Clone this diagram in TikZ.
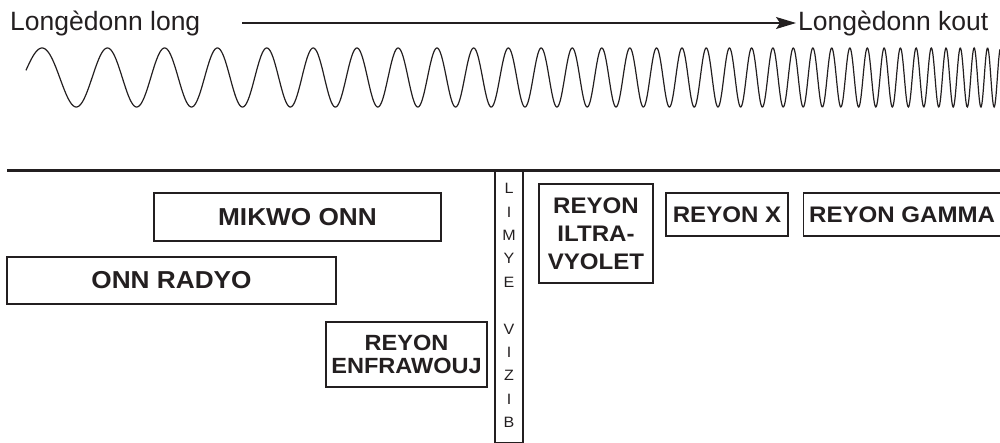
\documentclass[tikz,border=0pt]{standalone}
\usepackage{fontspec}
\setmainfont{Liberation Sans}
\newfontfamily\bandfont[FakeStretch=1.07]{Liberation Sans}
\usetikzlibrary{arrows.meta}
\definecolor{ink}{RGB}{35,31,32}
\begin{document}
\begin{tikzpicture}[x=1pt,y=-1pt,
  band/.style={draw=ink,line width=1.2pt,text=ink,inner sep=0pt,align=center,
    font=\bandfont\bfseries\fontsize{22.5}{28}\selectfont},
  vletter/.style={text=ink,inner sep=0pt,font=\bandfont\fontsize{15}{15}\selectfont}]
\clip (0,0) rectangle (1000,443);
% top labels and arrow
\node[anchor=base west,text=ink,inner sep=0pt,font=\fontsize{26.5}{30}\selectfont] (long) at (10,31) {Longèdonn long};
\node[anchor=base west,text=ink,inner sep=0pt,font=\fontsize{26.5}{30}\selectfont] (kout) at (798,31) {Longèdonn kout};
\coordinate (arrtail) at (242,23);
\draw[ink,line width=1.2pt,-{Stealth[length=20pt,width=12pt,inset=4pt]},shorten >=2pt] (arrtail) -- (arrtail -| kout.west);
% wave
\draw[ink,line width=1.2pt] plot[domain=26:1000,samples=2000]
  (\x,{77.5-29.5*cos(360*(0.011*\x+1.923*exp(0.0026*\x)+0.35*exp(-\x/60)-2.781))});
% spectrum
\draw[ink,line width=3pt] (7,171)--(1000,171);
\node[band,minimum width=287pt,minimum height=48pt,font=\bandfont\bfseries\fontsize{24.5}{28}\selectfont] (mikwo) at (297.5,217) {MIKWO ONN};
\node[band,minimum width=329pt,minimum height=47pt,font=\bandfont\bfseries\fontsize{24.5}{28}\selectfont] (radyo) at (171.5,280.5) {ONN RADYO};
\node[band,minimum width=161pt,minimum height=65pt,font=\bandfont\bfseries\fontsize{22}{23.5}\selectfont] (enfra) at (406.5,354.5) {REYON\\ENFRAWOUJ};
\node[band,minimum width=114pt,minimum height=99pt] (iltra) at (596,233.5) {REYON\\ILTRA-\\VYOLET};
\node[band,minimum width=122pt,minimum height=43pt] (xray) at (727,214.5) {REYON X};
\node[band,minimum width=220pt,minimum height=43pt,anchor=west] (gamma) at (803,214.5) {REYON GAMMA\hspace{23pt}};
\node[draw=ink,line width=1.2pt,minimum width=28pt,minimum height=271pt,anchor=north,inner sep=0pt] (vizib) at (509,171) {};
\foreach \ch/\k in {L/0,I/1,M/2,Y/3,E/4,V/6,I/7,Z/8,I/9,B/10}
  \node[vletter] (v\k) at (509,{188.5+\k*23.4}) {\ch};
\end{tikzpicture}
\end{document}
